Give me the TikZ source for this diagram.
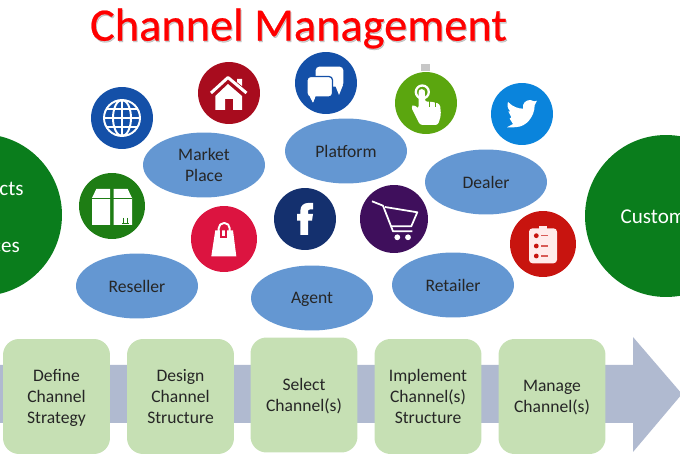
\documentclass[tikz,border=0pt]{standalone}
\usepackage{fontspec}
\setmainfont{Carlito}
\newfontfamily\titlefont[FakeBold=0.5]{Carlito}
\usepackage{xcolor}
\usepackage{tikz}
\usetikzlibrary{positioning, shapes.geometric}
\definecolor{ovalblue}{HTML}{6497D2}
\definecolor{stepgreen}{HTML}{C6E0B4}
\definecolor{bandgrey}{HTML}{B0BAD0}
\definecolor{bigroundgreen}{HTML}{0A7D1C}
\definecolor{globeblue}{HTML}{1450A8}
\definecolor{housered}{HTML}{A80C1E}
\definecolor{handgreen}{HTML}{5BA60F}
\definecolor{birdblue}{HTML}{0A84DC}
\definecolor{parcelgreen}{HTML}{1E7D14}
\definecolor{bagred}{HTML}{DC1440}
\definecolor{fbookblue}{HTML}{14306E}
\definecolor{cartviolet}{HTML}{3F0F5C}
\definecolor{listred}{HTML}{C8140F}
\tikzset{
    icon/.style={circle, inner sep=0pt, minimum size=#1*0.04cm},
    oval/.style={ellipse, fill=ovalblue, minimum width=2.44cm, minimum height=1.3cm, inner sep=0pt,
        align=center, font=\fontsize{10}{12}\selectfont, text=black!85, text depth=0pt},
    stepbox/.style={rectangle, rounded corners=0.32cm, fill=stepgreen, minimum width=2.14cm, minimum height=2.3cm,
        inner sep=0pt, align=center, font=\fontsize{10}{12}\selectfont, text=black!85, text depth=0pt},
    biground/.style={circle, fill=bigroundgreen, minimum size=3.24cm, inner sep=0pt},
    bigtext/.style={font=\fontsize{12}{14}\selectfont, text=white},
    glyph/.style={fill=white, draw=none},
    stroke/.style={draw=white, line width=1.1pt, line join=round},
}
\begin{document}
\begin{tikzpicture}[x=0.02cm, y=-0.02cm]
    \useasboundingbox (0,0) rectangle (680,469);
    \clip (0,0) rectangle (680,469);
    % title with its soft shadow
    \node[font=\titlefont\fontsize{26.4}{30}\selectfont, text=black, opacity=0.2] (titleshadow) at (299.5,30) {Channel Management};
    \node[font=\titlefont\fontsize{26.4}{30}\selectfont, text=red] (title) at (298.5,28.5) {Channel Management};
    % the two end circles
    \node[biground] (supply) at (-19,215) {};
    \node[bigtext] (products) at (-14,188) {Products};
    \node[bigtext] (services) at (-15,245) {Services};
    \node[biground] (market) at (666,216) {};
    \node[bigtext] (customers) at (666,217) {Customers};
    % process arrow behind the steps
    \fill[bandgrey] (-5,365) -- (633,365) -- (633,337) -- (682,394) -- (633,452) -- (633,423) -- (-5,423) -- cycle;
    \node[stepbox] (define) at (56.5,396.5) {Define\\Channel\\Strategy};
    \node[stepbox] (design) at (180.5,396.5) {Design\\Channel\\Structure};
    \node[stepbox] (select) at (304,395) {Select\\Channel(s)};
    \node[stepbox] (implement) at (428,396.5) {Implement\\Channel(s)\\Structure};
    \node[stepbox] (manage) at (552,396.5) {Manage\\Channel(s)};
    % channel types
    \node[oval] (marketplace) at (204,165) {Market\\Place};
    \node[oval] (platform) at (346,151) {Platform};
    \node[oval] (dealer) at (486,182) {Dealer};
    \node[oval] (reseller) at (137,286) {Reseller};
    \node[oval] (agent) at (312,298) {Agent};
    \node[oval] (retailer) at (453,285) {Retailer};
    % small grey stamp over the hand icon
    \fill[black!22] (421,64) rectangle (430,71);
    % round icons
    \node[icon=31, fill=globeblue] (globe) at (122,118) {};
    \node[icon=31, fill=housered] (house) at (229,93) {};
    \node[icon=31, fill=globeblue] (chat) at (326,83) {};
    \node[icon=31, fill=handgreen] (hand) at (426,103) {};
    \node[icon=31, fill=birdblue] (bird) at (522,114) {};
    \node[icon=33, fill=parcelgreen] (parcel) at (112,206) {};
    \node[icon=33, fill=bagred] (bag) at (224,239) {};
    \node[icon=31, fill=fbookblue] (fbook) at (305,219) {};
    \node[icon=34, fill=cartviolet] (cart) at (394,219) {};
    \node[icon=33, fill=listred] (list) at (543,244) {};
    % globe
    \begin{scope}[shift={(globe)}]
        \draw[stroke] (0,0) circle (18);
        \draw[stroke] (0,0) ellipse (9 and 18);
        \draw[stroke] (0,-18) -- (0,18);
        \draw[stroke] (-18,0) -- (18,0);
        \draw[stroke] (-15.5,-9) -- (15.5,-9);
        \draw[stroke] (-15.5,9) -- (15.5,9);
    \end{scope}
    % house
    \begin{scope}[shift={(house)}]
        \fill[glyph] (-13.7,17) -- (-13.7,3) -- (-1,-9) -- (13,3) -- (13,17) -- (4,17) -- (4,6) -- (-4,6) -- (-4,17) -- cycle;
        \draw[stroke, line width=1.7pt] (-18,0) -- (-1,-15.5) -- (17.5,0);
        \fill[glyph] (8,-14) -- (13,-14) -- (13,-7) -- (8,-11) -- cycle;
    \end{scope}
    % speech bubbles
    \begin{scope}[shift={(chat)}]
        \fill[glyph, rounded corners=2pt] (-10.3,-16.3) -- (17.3,-16.3) -- (17.3,3.7) -- (-10.3,3.7) -- cycle;
        \fill[glyph] (9,2) -- (17,2) -- (13,12) -- cycle;
        \fill[glyph] (-17,12) -- (-10,12) -- (-13,19.5) -- cycle;
        \filldraw[fill=white, draw=globeblue, line width=0.7pt, rounded corners=2pt] (-19,-6.5) rectangle (6.5,14);
        \fill[glyph] (-17,12) -- (-10,12) -- (-13,19.5) -- cycle;
    \end{scope}
    % pointing hand
    \begin{scope}[shift={(hand)}]
        \draw[stroke, line width=1.3pt] (-3.7,-11) circle (6.5);
        \fill[glyph, rounded corners=1.5pt] (-7.5,-11) -- (-6.5,-14) -- (-2,-14) -- (-1,-11) -- (-1,-1) -- (5,-1.5) -- (14,1) -- (15,12) -- (12,22) -- (-6,22) -- (-15,4) -- (-12,1.5) -- (-7.5,6) -- cycle;
        \draw[handgreen, line width=0.4pt] (3.5,-1.5) -- (3.5,4) (9,-0.5) -- (9,4.5);
    \end{scope}
    % bird
    \begin{scope}[shift={(bird)}]
        \fill[glyph] (-14,-12) .. controls (-9,-7) and (-4,-5.5) .. (1,-5.3) .. controls (0,-11) and (4,-14) .. (8.3,-14)
            -- (12.3,-12.7) -- (15,-13.3) -- (12.7,-8.7) .. controls (12.5,3) and (4,12.5) .. (-5,13)
            .. controls (-9,13.5) and (-12,13.5) .. (-15,13.3) -- (-9,10) -- (-12.3,4.7) -- (-10.7,3.3)
            -- (-13.7,-2.7) -- (-11.7,-2.7) .. controls (-14.5,-5) and (-15,-9) .. (-14,-12) -- cycle;
    \end{scope}
    % parcel
    \begin{scope}[shift={(parcel)}]
        \fill[glyph] (-20,19) -- (-20,-8) -- (-15.7,-17) -- (-2,-17) -- (-2,19) -- cycle;
        \fill[glyph] (1.5,19) -- (1.5,-17) -- (15.7,-17) -- (20,-8) -- (20,19) -- cycle;
        \draw[parcelgreen, line width=0.5pt] (-20,-8) -- (20,-8);
        \draw[parcelgreen, line width=0.7pt] (11.5,12) -- (11.5,17) (15.5,12) -- (15.5,17);
        \draw[parcelgreen, line width=0.5pt] (10,17.5) -- (17,17.5);
    \end{scope}
    % shopping bag
    \begin{scope}[shift={(bag)}]
        \fill[glyph] (-8.7,-8.7) -- (9,-8.7) -- (12.3,17.3) -- (-12.7,17.3) -- cycle;
        \draw[stroke, rounded corners=3pt] (-5.3,-7) -- (-5.3,-16) -- (5.7,-16) -- (5.7,-7);
        \draw[bagred, line width=1pt] (-3,-8.7) -- (-3,-2) -- (2,-2) -- (2,-8.7);
    \end{scope}
    % letter f
    \begin{scope}[shift={(fbook)}]
        \fill[glyph] (-4.7,16) -- (-4.7,1.7) -- (-8,1.7) -- (-8,-5) -- (-4.7,-5) -- (-4.7,-8) .. controls (-4.7,-13.5) and (-1,-16) .. (3,-16)
            -- (8,-16) -- (8,-9.5) -- (5,-9.5) .. controls (3.5,-9.5) and (3,-9) .. (3,-7.5) -- (3,-5) -- (8,-5) -- (7,1.7) -- (3,1.7) -- (3,16) -- cycle;
    \end{scope}
    % trolley
    \begin{scope}[shift={(cart)}]
        \draw[stroke, line width=1pt] (-22,-17.7) -- (-11,-13.3) -- (-1,12.3) -- (18.3,12.3);
        \draw[stroke, line width=1pt] (-9,-12) -- (23.3,-6.7) -- (17.3,7.3) -- (-3,7.3);
        \fill[glyph] (3.3,18.3) circle (2.9) (14,18.3) circle (2.9);
    \end{scope}
    % check list
    \begin{scope}[shift={(list)}]
        \fill[white!92!red, rounded corners=2pt] (-14,-15.7) rectangle (14,19.3);
        \fill[white!92!red] (-4,-18) rectangle (4,-15);
        \foreach \rowy in {-8.3,2,12} {
            \fill[listred] (-6.7,\rowy) circle (2.4);
            \draw[listred!70!white, line width=0.7pt] (-1.7,\rowy) -- (5,\rowy);
        }
    \end{scope}
\end{tikzpicture}
\end{document}
